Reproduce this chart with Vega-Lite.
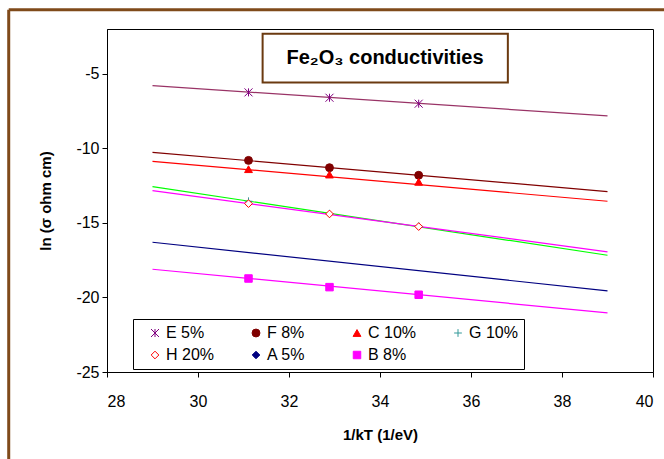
{
  "$schema": "https://vega.github.io/schema/vega-lite/v6.json",
  "width": 546,
  "height": 343,
  "autosize": {"type": "none"},
  "padding": {"left": 107, "top": 29, "right": 11, "bottom": 87},
  "background": "white",
  "datasets": {
    "pts": [
      {"series": "E 5%", "x": 31.11, "y": -6.25},
      {"series": "E 5%", "x": 32.89, "y": -6.61},
      {"series": "E 5%", "x": 34.85, "y": -7.01},
      {"series": "F 8%", "x": 31.11, "y": -10.81},
      {"series": "F 8%", "x": 32.89, "y": -11.30},
      {"series": "F 8%", "x": 34.85, "y": -11.81},
      {"series": "C 10%", "x": 31.11, "y": -11.40},
      {"series": "C 10%", "x": 32.89, "y": -11.76},
      {"series": "C 10%", "x": 34.85, "y": -12.25},
      {"series": "G 10%", "x": 31.11, "y": -13.55},
      {"series": "G 10%", "x": 32.89, "y": -14.38},
      {"series": "G 10%", "x": 34.85, "y": -15.22},
      {"series": "H 20%", "x": 31.11, "y": -13.71},
      {"series": "H 20%", "x": 32.89, "y": -14.40},
      {"series": "H 20%", "x": 34.85, "y": -15.25},
      {"series": "B 8%", "x": 31.11, "y": -18.73},
      {"series": "B 8%", "x": 32.89, "y": -19.31},
      {"series": "B 8%", "x": 34.85, "y": -19.82}
    ],
    "fits": [
      {"fit": "E 5%", "x": 29, "y": -5.80},
      {"fit": "E 5%", "x": 39, "y": -7.83},
      {"fit": "F 8%", "x": 29, "y": -10.27},
      {"fit": "F 8%", "x": 39, "y": -12.90},
      {"fit": "C 10%", "x": 29, "y": -10.87},
      {"fit": "C 10%", "x": 39, "y": -13.55},
      {"fit": "G 10%", "x": 29, "y": -12.57},
      {"fit": "G 10%", "x": 39, "y": -17.17},
      {"fit": "H 20%", "x": 29, "y": -12.84},
      {"fit": "H 20%", "x": 39, "y": -16.94},
      {"fit": "A 5%", "x": 29, "y": -16.30},
      {"fit": "A 5%", "x": 39, "y": -19.56},
      {"fit": "B 8%", "x": 29, "y": -18.11},
      {"fit": "B 8%", "x": 39, "y": -21.03}
    ],
    "frame": [
      {"x": 25.84, "x2": 25.84, "y": -0.71, "y2": -40},
      {"x": 25.84, "x2": 50, "y": -0.71, "y2": -0.71}
    ],
    "titlebox": [
      {"x": 31.42, "x2": 36.81, "y": -2.32, "y2": -5.58, "xc": 34.11, "yc": -3.95, "label": "Fe₂O₃ conductivities"}
    ]
  },
  "layer": [
    {
      "data": {"name": "frame"},
      "mark": {"type": "rule", "color": "#7f4a1a", "strokeWidth": 3, "clip": false},
      "encoding": {
        "x": {"field": "x", "type": "quantitative", "scale": {"domain": [28, 40], "nice": false, "zero": false}},
        "x2": {"field": "x2"},
        "y": {"field": "y", "type": "quantitative", "scale": {"domain": [-25, -2], "nice": false, "zero": false}},
        "y2": {"field": "y2"}
      }
    },
    {
      "data": {"name": "fits"},
      "mark": {"type": "line", "strokeWidth": 1.2},
      "encoding": {
        "x": {"field": "x", "type": "quantitative"},
        "y": {"field": "y", "type": "quantitative"},
        "detail": {"field": "fit"},
        "color": {
          "field": "fit", "type": "nominal", "legend": null,
          "scale": {
            "domain": ["A 5%", "B 8%", "C 10%", "E 5%", "F 8%", "G 10%", "H 20%"],
            "range": ["#000080", "#ff00ff", "#ff0000", "#993366", "#800000", "#00ff00", "#ff00ff"]
          }
        }
      }
    },
    {
      "data": {"name": "pts"},
      "mark": {"type": "point", "filled": true, "strokeWidth": 1, "opacity": 1},
      "encoding": {
        "x": {"field": "x", "type": "quantitative"},
        "y": {"field": "y", "type": "quantitative"},
        "shape": {
          "field": "series", "type": "nominal",
          "scale": {
            "domain": ["E 5%", "F 8%", "C 10%", "G 10%", "H 20%", "A 5%", "B 8%"],
            "range": ["M-1,-1L1,1M-1,1L1,-1M0,-1L0,1", "circle", "triangle-up", "M-1,0L1,0M0,-1L0,1", "diamond", "diamond", "square"]
          },
          "legend": {
            "title": null, "orient": "none", "legendX": 26, "legendY": 290,
            "direction": "horizontal", "columns": 4, "gridAlign": "all",
            "strokeColor": "black", "fillColor": "white", "padding": 6,
            "symbolOffset": 8, "columnPadding": 25, "rowPadding": 6, "labelOffset": 3
          }
        },
        "fill": {
          "field": "series", "type": "nominal",
          "scale": {
            "domain": ["E 5%", "F 8%", "C 10%", "G 10%", "H 20%", "A 5%", "B 8%"],
            "range": ["#800080", "#800000", "#ff0000", "#339999", "#ffffff", "#000080", "#ff00ff"]
          },
          "legend": {
            "title": null, "orient": "none", "legendX": 26, "legendY": 290,
            "direction": "horizontal", "columns": 4, "gridAlign": "all",
            "strokeColor": "black", "fillColor": "white", "padding": 6,
            "symbolOffset": 8, "columnPadding": 25, "rowPadding": 6, "labelOffset": 3
          }
        },
        "stroke": {
          "field": "series", "type": "nominal",
          "scale": {
            "domain": ["E 5%", "F 8%", "C 10%", "G 10%", "H 20%", "A 5%", "B 8%"],
            "range": ["#800080", "#800000", "#ff0000", "#339999", "#ff0000", "#000080", "#ff00ff"]
          },
          "legend": {
            "title": null, "orient": "none", "legendX": 26, "legendY": 290,
            "direction": "horizontal", "columns": 4, "gridAlign": "all",
            "strokeColor": "black", "fillColor": "white", "padding": 6,
            "symbolOffset": 8, "columnPadding": 25, "rowPadding": 6, "labelOffset": 3
          }
        },
        "size": {
          "field": "series", "type": "nominal",
          "scale": {
            "domain": ["E 5%", "F 8%", "C 10%", "G 10%", "H 20%", "A 5%", "B 8%"],
            "range": [64, 56, 36, 81, 36, 36, 49]
          },
          "legend": {
            "title": null, "orient": "none", "legendX": 26, "legendY": 290,
            "direction": "horizontal", "columns": 4, "gridAlign": "all",
            "strokeColor": "black", "fillColor": "white", "padding": 6,
            "symbolOffset": 8, "columnPadding": 25, "rowPadding": 6, "labelOffset": 3
          }
        }
      }
    },
    {
      "data": {"name": "titlebox"},
      "mark": {"type": "rect", "fill": "white", "stroke": "#6b3a10", "strokeWidth": 2},
      "encoding": {
        "x": {"field": "x", "type": "quantitative"},
        "x2": {"field": "x2"},
        "y": {"field": "y", "type": "quantitative"},
        "y2": {"field": "y2"}
      }
    },
    {
      "data": {"name": "titlebox"},
      "mark": {"type": "text", "font": "Liberation Sans", "fontSize": 20, "fontWeight": "bold", "color": "black", "align": "center", "baseline": "middle"},
      "encoding": {
        "x": {"field": "xc", "type": "quantitative"},
        "y": {"field": "yc", "type": "quantitative"},
        "text": {"field": "label"}
      }
    }
  ],
  "encoding": {
    "x": {
      "field": "x", "type": "quantitative",
      "axis": {"title": "1/kT  (1/eV)", "values": [28, 30, 32, 34, 36, 38, 40], "labelPadding": 16, "titlePadding": 18}
    },
    "y": {
      "field": "y", "type": "quantitative",
      "axis": {"title": "ln (σ ohm cm)", "values": [-25, -20, -15, -10, -5], "labelPadding": 3, "titlePadding": 22}
    }
  },
  "config": {
    "view": {"stroke": "black", "strokeWidth": 1},
    "axis": {
      "grid": false, "domainColor": "black", "tickColor": "black", "tickSize": 5,
      "labelFont": "Liberation Sans", "labelFontSize": 16, "labelColor": "black",
      "labelExpr": "replace(datum.label, '−', '-')",
      "titleFont": "Liberation Sans", "titleFontSize": 15, "titleFontWeight": "bold", "titleColor": "black"
    },
    "legend": {
      "labelFontSize": 16, "labelFont": "Liberation Sans", "labelColor": "black", "symbolStrokeWidth": 1
    }
  }
}
